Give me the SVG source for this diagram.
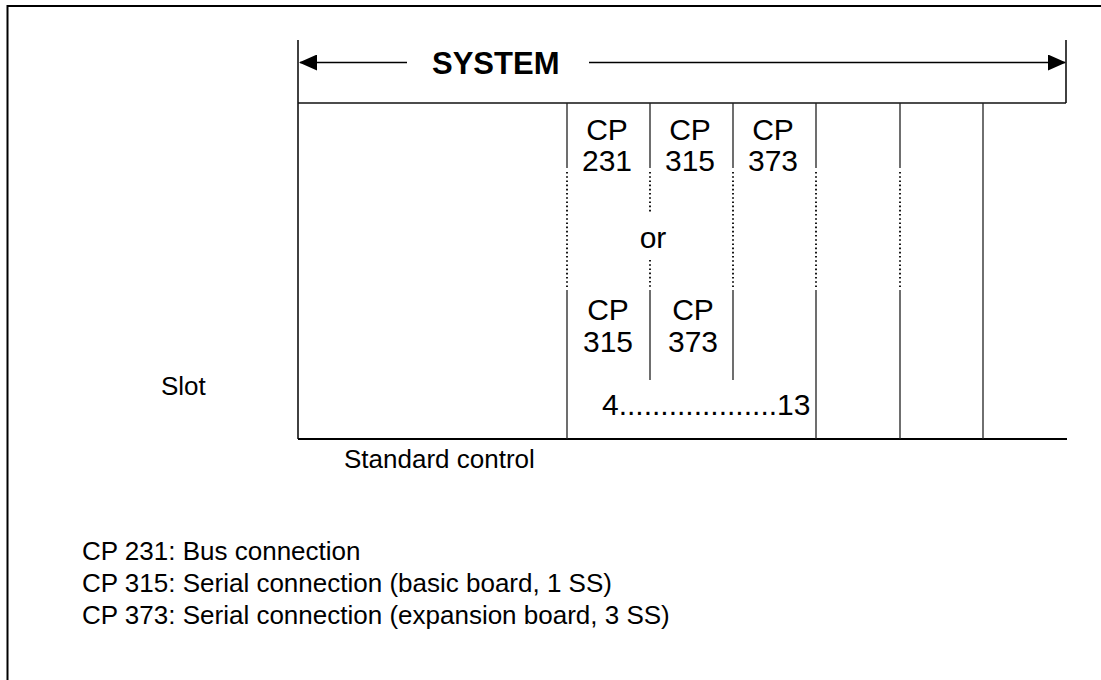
<svg xmlns="http://www.w3.org/2000/svg" width="1101" height="680" viewBox="0 0 1101 680">
  <style>
    .frame { fill: none; stroke: #000; stroke-width: 2; }
    .rule { fill: none; stroke: #111; stroke-width: 1.6; }
    .col { fill: none; stroke: #222; stroke-width: 1.3; }
    .dot { fill: none; stroke: #000; stroke-width: 1.8; stroke-dasharray: 1.6 2.6; }
    .arrow { fill: none; stroke: #000; stroke-width: 1.6; }
    .t { font-family: "Liberation Sans", Arial, sans-serif; fill: #000; }
    .cp { font-size: 30px; text-anchor: middle; }
    .lbl { font-size: 26px; }
    .title { font-size: 31px; font-weight: bold; }
  </style>
  <defs>
    <marker id="head" viewBox="0 0 18 16" refX="17" refY="8" markerWidth="18" markerHeight="16" markerUnits="userSpaceOnUse" orient="auto">
      <path d="M0,0 L18,8 L0,16 Z" fill="#000"/>
    </marker>
  </defs>

  <rect width="1101" height="680" fill="#fff"/>

  <!-- outer frame, open to the right and bottom -->
  <path class="frame" d="M7.5,680 V6 H1101"/>

  <!-- system rack outline -->
  <g id="rack">
    <path class="rule" d="M298,40 V439"/>
    <path class="rule" d="M1066,40 V103"/>
    <path class="rule" d="M298,103 H1066"/>
    <path class="frame" d="M298,439 H1067"/>
  </g>

  <!-- slot dividers -->
  <g id="slots">
    <path class="col" d="M567,103 V168 M567,290 V439"/>
    <path class="dot" d="M567,172 V287"/>
    <path class="col" d="M650,103 V168 M650,290 V380"/>
    <path class="dot" d="M650,172 V214 M650,260 V287"/>
    <path class="col" d="M733,103 V168 M733,290 V380"/>
    <path class="dot" d="M733,172 V287"/>
    <path class="col" d="M816,103 V168 M816,290 V439"/>
    <path class="dot" d="M816,172 V287"/>
    <path class="col" d="M900,103 V168 M900,290 V439"/>
    <path class="dot" d="M900,172 V287"/>
    <path class="col" d="M983,103 V439"/>
  </g>

  <!-- system span arrows -->
  <g id="connectors">
    <path class="arrow" d="M407,62.5 H300" marker-end="url(#head)"/>
    <path class="arrow" d="M589,62.5 H1065" marker-end="url(#head)"/>
  </g>

  <g id="system-title">
    <text class="t title" x="432" y="74">SYSTEM</text>
  </g>

  <!-- first module option -->
  <g id="option-a">
    <text class="t cp" x="607" y="140">CP</text>
    <text class="t cp" x="607" y="171">231</text>
    <text class="t cp" x="690" y="140">CP</text>
    <text class="t cp" x="690" y="171">315</text>
    <text class="t cp" x="773" y="140">CP</text>
    <text class="t cp" x="773" y="171">373</text>
  </g>

  <g id="or-label">
    <text class="t cp" x="653" y="248">or</text>
  </g>

  <!-- second module option -->
  <g id="option-b">
    <text class="t cp" x="608" y="320">CP</text>
    <text class="t cp" x="608" y="352">315</text>
    <text class="t cp" x="693" y="320">CP</text>
    <text class="t cp" x="693" y="352">373</text>
  </g>

  <g id="slot-range">
    <text class="t" style="font-size:30px" x="602" y="415">4...................13</text>
  </g>

  <g id="slot-label">
    <text class="t lbl" x="161" y="395">Slot</text>
  </g>

  <g id="standard-control">
    <text class="t lbl" x="344" y="468">Standard control</text>
  </g>

  <g id="legend">
    <text class="t lbl" x="82" y="560">CP 231: Bus connection</text>
    <text class="t lbl" x="82" y="592">CP 315: Serial connection (basic board, 1 SS)</text>
    <text class="t lbl" x="82" y="624">CP 373: Serial connection (expansion board, 3 SS)</text>
  </g>
</svg>
